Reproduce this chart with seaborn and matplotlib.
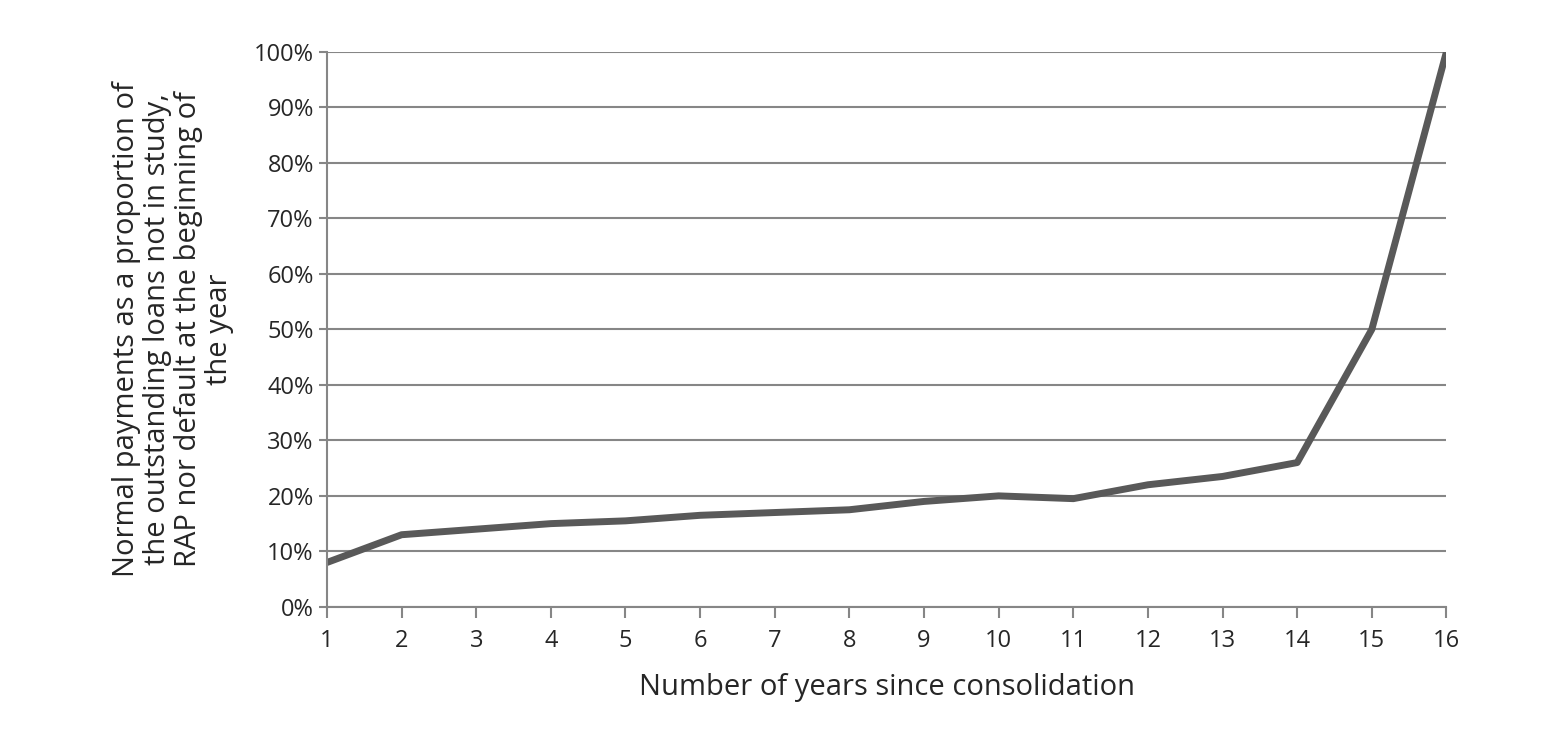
import numpy as np
import pandas as pd
import matplotlib
matplotlib.use('Agg')
import matplotlib.pyplot as plt
import seaborn as sns

sns.set_style('white')
plt.rcParams['font.family'] = ['Open Sans', 'DejaVu Sans']

years = list(range(1, 17))
share = [0.08, 0.13, 0.14, 0.15, 0.155, 0.165, 0.17, 0.175, 0.19, 0.20,
         0.195, 0.22, 0.235, 0.26, 0.50, 1.00]
df = pd.DataFrame({'year': years, 'share': share})

fig, ax = plt.subplots(figsize=(15.57, 7.41), dpi=100)
plt.subplots_adjust(left=0.21, right=0.929, top=0.93, bottom=0.181)

sns.lineplot(data=df, x='year', y='share', color='#595959', lw=5, ax=ax)

ax.set_xlim(1, 16)
ax.set_ylim(0, 1)
ax.set_xticks(years)
ax.set_yticks(np.arange(0, 1.01, 0.1))
ax.set_yticklabels([f'{int(round(v * 100))}%' for v in np.arange(0, 1.01, 0.1)])
ax.yaxis.grid(True, color='#868686', lw=1.5)
ax.xaxis.grid(False)
for s in ['top', 'right']:
    ax.spines[s].set_visible(False)
for s in ['left', 'bottom']:
    ax.spines[s].set_color('#868686')
    ax.spines[s].set_linewidth(1.5)
ax.tick_params(axis='x', direction='out', length=8, width=1.5, color='#868686',
               bottom=True, labelsize=17, pad=8)
ax.tick_params(axis='y', direction='out', length=6, width=1.5, color='#868686',
               left=True, labelsize=17)
ax.set_xlabel('Number of years since consolidation', fontsize=21, labelpad=14)
ax.set_ylabel('Normal payments as a proportion of\nthe outstanding loans not in study,\n'
              'RAP nor default at the beginning of\nthe year', fontsize=21,
              labelpad=14, linespacing=1.1)

plt.savefig('out.png', dpi=100)
